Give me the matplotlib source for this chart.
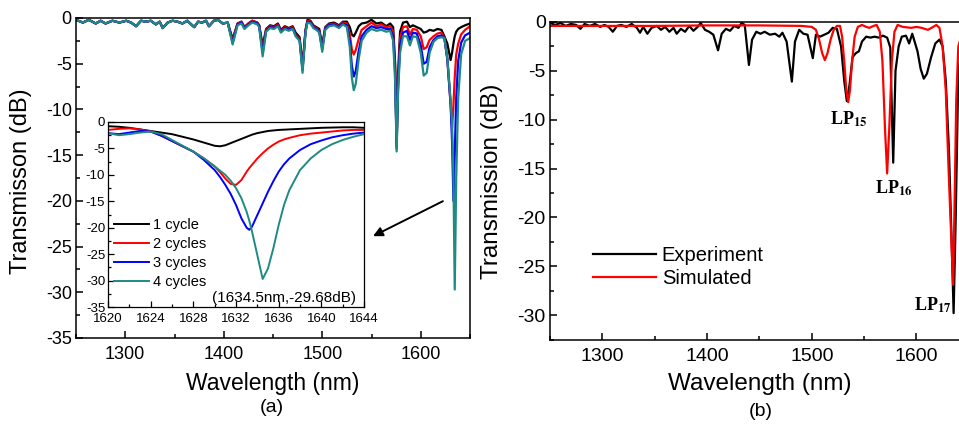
import numpy as np
import matplotlib

matplotlib.use("Agg")
import matplotlib.pyplot as plt
from matplotlib.ticker import MultipleLocator

plt.rcParams["font.family"] = ["Liberation Sans", "DejaVu Sans"]
plt.rcParams["mathtext.fontset"] = "stix"
plt.rcParams["axes.unicode_minus"] = False

# ---- panel (a): full spectra for 1-4 cycles ----
wl_a = [1250, 1257, 1263, 1270, 1275, 1280, 1287, 1294, 1301, 1306, 1311, 1316, 1321, 1326,
        1331, 1335, 1338, 1343, 1348, 1353, 1358, 1363, 1370, 1374, 1378, 1382, 1385, 1390,
        1394, 1399, 1404, 1409, 1414, 1418, 1421, 1425, 1429, 1434, 1436, 1439.5, 1443, 1447,
        1451, 1455, 1458, 1462, 1466, 1470, 1473, 1477, 1480, 1483, 1485, 1488, 1491, 1494,
        1497, 1500, 1503, 1507, 1512, 1517, 1521, 1525, 1528, 1530, 1532, 1534, 1537, 1540,
        1545, 1550, 1555, 1560, 1565, 1569, 1572, 1574, 1575.5, 1577, 1579, 1582, 1586, 1589,
        1592, 1596, 1600, 1603, 1606, 1609, 1613, 1617, 1621, 1624, 1627, 1630.3, 1631.8,
        1633.2, 1634.5, 1636, 1638, 1641, 1645, 1650]
base_a = [-0.2, -0.5, -0.2, -0.6, -0.3, -0.6, -0.3, -0.5, -0.3, -0.5, -0.9, -0.3, -0.4, -0.3,
          -0.7, -0.4, -1.1, -0.5, -0.3, -0.4, -0.6, -0.3, -1.0, -0.4, -0.5, -0.3, -0.9, -0.3,
          -0.2, -0.6, -0.5]
one_a = base_a + [-2.3, -0.6, -0.4, -1.0, -0.6, -0.3, -0.5, -0.8, -3.0, -1.2, -0.8,
                  -0.9, -0.6, -1.3, -0.9, -1.1, -0.9, -1.6, -2.1, -5.2, -1.3, -0.2, -0.3, -0.8, -1.0,
                  -1.2, -3.0, -1.0, -0.6, -0.5, -0.8, -0.4, -0.4, -1.0, -1.8, -2.0, -1.6, -0.9, -0.6,
                  -0.5, -0.2, -0.6, -0.5, -0.9, -0.6, -1.0, -5.0, -13.5, -6.0, -1.5, -0.5, -0.4, -1.0,
                  -0.8, -1.0, -1.2, -1.6, -1.5, -1.3, -1.4, -1.2, -1.3, -2.0, -2.8, -4.6, -3.8,
                  -2.8, -2.0, -1.5, -1.2, -1.0, -0.8, -0.6]
two_a = base_a + [-2.5, -0.6, -0.4, -1.0, -0.6, -0.3, -0.5, -0.8, -3.4, -1.3, -0.9,
                  -1.0, -0.7, -1.4, -1.0, -1.2, -1.0, -1.8, -2.3, -5.5, -1.4, -0.3, -0.4, -0.9, -1.1,
                  -1.4, -3.2, -1.1, -0.7, -0.6, -0.9, -0.5, -0.6, -1.8, -3.4, -4.0, -3.5, -2.3, -1.3,
                  -0.9, -0.5, -0.9, -0.7, -1.0, -0.9, -1.5, -5.5, -14.0, -7.0, -2.2, -1.0, -0.9, -1.8,
                  -1.2, -1.3, -2.0, -3.4, -3.2, -2.4, -2.0, -1.7, -1.6, -2.2, -4.5, -9.4, -12.0,
                  -9.5, -6.5, -4.0, -2.8, -1.8, -1.3, -0.9]
three_a = base_a + [-2.7, -0.7, -0.5, -1.1, -0.7, -0.4, -0.6, -0.9, -3.8, -1.4, -1.0,
                    -1.1, -0.8, -1.5, -1.1, -1.3, -1.1, -1.9, -2.4, -5.7, -1.5, -0.4, -0.5, -1.0, -1.2,
                    -1.5, -3.4, -1.2, -0.8, -0.7, -1.0, -0.6, -0.8, -2.5, -5.2, -6.4, -5.8, -3.6, -2.0,
                    -1.3, -0.9, -1.1, -1.0, -1.2, -1.2, -2.0, -6.0, -14.3, -7.5, -3.0, -1.6, -1.4, -2.4,
                    -1.6, -1.7, -3.0, -5.0, -4.8, -3.2, -2.4, -2.0, -1.9, -2.2, -4.5, -9.4, -13.5,
                    -20.0, -15.0, -8.8, -4.7, -2.7, -1.9, -1.6]
four_a = base_a + [-2.9, -0.8, -0.6, -1.2, -0.8, -0.5, -0.7, -1.0, -4.2, -1.5, -1.1,
                   -1.2, -0.9, -1.6, -1.2, -1.4, -1.2, -2.0, -2.5, -6.0, -1.6, -0.5, -0.6, -1.1, -1.3,
                   -1.6, -3.7, -1.3, -0.9, -0.8, -1.1, -0.7, -1.0, -3.2, -6.5, -7.9, -7.2, -4.5, -2.5,
                   -1.6, -1.2, -1.4, -1.3, -1.5, -1.4, -2.5, -7.0, -14.6, -8.0, -3.8, -2.0, -2.0, -3.0,
                   -2.0, -2.1, -3.8, -6.3, -6.0, -3.8, -2.6, -2.2, -2.1, -2.2, -4.4, -9.0, -11.5,
                   -17.5, -29.7, -17.6, -8.8, -4.0, -2.5, -2.2]

# ---- inset: zoom on the 1634 nm resonance ----
wl_in = [1620, 1621, 1622, 1623, 1624, 1625, 1626, 1627, 1628, 1629, 1630, 1630.5, 1631,
         1631.5, 1632, 1632.5, 1633, 1633.25, 1633.5, 1634, 1634.5, 1635, 1635.5, 1636, 1636.5,
         1637, 1638, 1639, 1640, 1641, 1642, 1643, 1644]
one_in = [-0.8, -0.9, -1.1, -1.4, -1.7, -2.0, -2.3, -2.8, -3.3, -3.9, -4.5, -4.6, -4.4, -4.0,
          -3.6, -3.2, -2.8, -2.6, -2.4, -2.1, -1.9, -1.7, -1.6, -1.5, -1.45, -1.4, -1.3, -1.2,
          -1.1, -1.05, -1.0, -1.0, -1.1]
two_in = [-1.5, -1.3, -1.2, -1.4, -1.8, -2.6, -3.6, -4.6, -5.6, -6.9, -8.4, -9.5, -10.7, -11.7,
          -11.9, -11.0, -9.4, -8.7, -8.1, -6.9, -5.9, -5.0, -4.3, -3.7, -3.3, -3.0, -2.5, -2.2,
          -2.0, -1.8, -1.6, -1.5, -1.5]
three_in = [-2.1, -2.3, -2.0, -1.7, -1.8, -2.6, -3.6, -4.6, -5.6, -7.2, -9.1, -10.4, -11.9,
            -13.6, -15.7, -18.2, -20.0, -20.4, -19.8, -17.6, -15.4, -13.2, -11.2, -9.4, -8.0,
            -6.9, -5.3, -4.2, -3.5, -2.9, -2.5, -2.2, -2.0]
four_in = [-2.1, -2.5, -2.3, -2.0, -1.8, -2.3, -3.4, -4.5, -5.6, -6.9, -8.4, -9.2, -10.0, -11.1,
           -12.5, -14.4, -17.0, -18.7, -20.7, -25.2, -29.7, -27.7, -23.9, -19.5, -15.7, -12.9,
           -9.1, -6.9, -5.3, -4.2, -3.4, -2.8, -2.3]

# ---- panel (b): experiment vs simulation ----
wl_exp = [1250, 1255, 1260, 1265, 1270, 1275, 1279, 1283, 1288, 1293, 1298, 1302, 1306, 1310,
          1314, 1318, 1323, 1328, 1333, 1336, 1339, 1343, 1347, 1352, 1356, 1360, 1364, 1368,
          1371, 1375, 1379, 1383, 1387, 1391, 1394, 1398, 1402, 1406, 1410.5, 1414, 1418, 1422,
          1426, 1430, 1433, 1436, 1440, 1443, 1447, 1451, 1455, 1460, 1465, 1469, 1472, 1476,
          1481, 1484, 1488, 1492, 1496, 1501, 1504, 1508, 1512, 1516, 1520, 1524, 1528, 1531,
          1533.5, 1536, 1539, 1542, 1545, 1548, 1552, 1556, 1560, 1564, 1568, 1572, 1575,
          1577.8, 1580, 1583, 1586, 1590, 1593, 1596, 1601, 1604, 1607, 1610, 1614, 1618, 1622,
          1625, 1628, 1631, 1633.5, 1635.5, 1637.5, 1640, 1645]
exp_b = [-0.1, -0.3, -0.1, -0.4, -0.2, -0.3, -0.7, -0.2, -0.4, -0.2, -0.5, -0.3, -0.5, -1.0,
         -0.4, -0.3, -0.5, -0.2, -0.6, -1.1, -0.5, -1.2, -0.6, -0.4, -0.8, -0.5, -1.0, -0.6,
         -1.2, -0.7, -1.0, -0.4, -0.9, -0.5, -0.1, -0.8, -1.0, -1.3, -2.9, -1.2, -0.7, -0.9,
         -0.4, -0.6, -0.1, -0.3, -4.4, -1.8, -1.0, -1.2, -1.0, -1.3, -1.2, -1.5, -1.1, -2.0,
         -6.1, -2.0, -0.8, -1.2, -1.3, -3.7, -1.3, -1.5, -1.3, -1.1, -0.6, -0.7, -2.5, -6.0,
         -8.1, -6.5, -3.6, -3.2, -3.0, -2.0, -1.5, -1.6, -1.5, -1.6, -1.4, -1.6, -2.6,
         -14.4, -5.0, -2.5, -1.5, -1.4, -2.2, -1.2, -3.0, -4.8, -5.8, -5.3, -3.6, -2.2, -1.8,
         -2.5, -6.0, -13.0, -22.0, -29.8, -20.0, -5.0, -1.0]
wl_sim = [1250, 1300, 1350, 1400, 1450, 1490, 1500, 1504, 1507, 1510, 1512.5, 1515, 1518, 1521,
          1524, 1527, 1529, 1531, 1533, 1534.8, 1536.5, 1538.5, 1541, 1544, 1548, 1552, 1555,
          1559, 1562, 1565, 1567.5, 1570, 1572, 1574, 1576.5, 1579, 1582, 1587, 1595, 1600,
          1605, 1611, 1616, 1619, 1622, 1625, 1628, 1631, 1635, 1636.5, 1638, 1640, 1645, 1650]
sim_b = [-0.4, -0.4, -0.4, -0.35, -0.35, -0.4, -0.5, -0.8, -1.8, -3.2, -3.9, -3.2, -1.8, -0.8,
         -0.4, -0.4, -1.5, -4.0, -7.0, -8.2, -7.0, -4.0, -1.5, -0.5, -0.3, -0.5, -0.6,
         -0.4, -0.3, -1.0, -4.0, -11.0, -15.5, -11.0, -4.0, -1.0, -0.3, -0.5, -0.6, -0.5,
         -0.6, -0.8, -0.5, -0.3, -0.6, -2.5, -7.0, -16.0, -26.9, -18.0, -8.0, -2.5, -0.6, -0.4]

teal = "#1e8a84"
colors = ["black", "#ff0000", "#0000ff", teal]
labels = ["1 cycle", "2 cycles", "3 cycles", "4 cycles"]


def style_axes(ax, size, lw=1.1):
    ax.tick_params(which="both", direction="in", top=False, right=False, width=lw,
                   labelsize=size)
    ax.tick_params(which="major", length=5)
    ax.tick_params(which="minor", length=3)
    for sp in ax.spines.values():
        sp.set_linewidth(lw)


fig = plt.figure(figsize=(9.59, 4.26), dpi=100)

# panel (a)
ax_a = fig.add_axes([76 / 959, 88 / 426, 394 / 959, 320 / 426])
for ys, c in zip([one_a, two_a, three_a, four_a], colors):
    ax_a.plot(wl_a, ys, color=c, lw=1.6)
ax_a.set_xlim(1250, 1650)
ax_a.set_ylim(-35, 0)
ax_a.xaxis.set_major_locator(MultipleLocator(100))
ax_a.xaxis.set_minor_locator(MultipleLocator(50))
ax_a.yaxis.set_major_locator(MultipleLocator(5))
ax_a.yaxis.set_minor_locator(MultipleLocator(2.5))
style_axes(ax_a, 13)
ax_a.tick_params(axis="x", pad=6)
ax_a.tick_params(axis="y", pad=3)
ax_a.set_xlabel("Wavelength (nm)", fontsize=16.5)
ax_a.set_ylabel("Transmisson (dB)", fontsize=17)
ax_a.xaxis.set_label_coords(0.5, -0.105)
ax_a.yaxis.set_label_coords(-0.112, 0.49)
ax_a.annotate("", xy=(1549, -24.0), xytext=(1625, -19.9),
              arrowprops=dict(arrowstyle="-|>", color="black", lw=1.4,
                              mutation_scale=14))

# inset
ax_in = fig.add_axes([108 / 959, 119 / 426, 256 / 959, 185 / 426])
for ys, c, lab in zip([one_in, two_in, three_in, four_in], colors, labels):
    ax_in.plot(wl_in, ys, color=c, lw=1.4, label=lab)
ax_in.set_xlim(1620, 1644)
ax_in.set_ylim(-35, 0)
ax_in.xaxis.set_major_locator(MultipleLocator(4))
ax_in.xaxis.set_minor_locator(MultipleLocator(2))
ax_in.yaxis.set_major_locator(MultipleLocator(5))
ax_in.yaxis.set_minor_locator(MultipleLocator(2.5))
style_axes(ax_in, 9.5, lw=0.9)
ax_in.tick_params(which="major", length=4)
ax_in.tick_params(which="minor", length=2)
ax_in.tick_params(axis="x", pad=4)
ax_in.tick_params(axis="y", pad=2)
ax_in.legend(loc="lower left", bbox_to_anchor=(-0.01, 0.05), frameon=False, fontsize=10.5,
             handlelength=2.4, handletextpad=0.25, labelspacing=0.35, borderaxespad=0.2)
ax_in.text(0.97, 0.05, "(1634.5nm,-29.68dB)", transform=ax_in.transAxes, ha="right",
           va="center", fontsize=11)

# panel (b)
ax_b = fig.add_axes([550 / 959, 86 / 426, 418.8 / 959, 318 / 426])
ax_b.plot(wl_exp, exp_b, color="black", lw=1.6, label="Experiment")
ax_b.plot(wl_sim, sim_b, color="#ff0000", lw=1.6, label="Simulated")
ax_b.set_xlim(1250, 1650)
ax_b.set_ylim(-32.55, 0)
ax_b.xaxis.set_major_locator(MultipleLocator(100))
ax_b.xaxis.set_minor_locator(MultipleLocator(50))
ax_b.yaxis.set_major_locator(MultipleLocator(5))
ax_b.yaxis.set_minor_locator(MultipleLocator(2.5))
style_axes(ax_b, 14)
ax_b.tick_params(axis="x", pad=6)
ax_b.tick_params(axis="y", pad=3)
ax_b.set_xlabel("Wavelength (nm)", fontsize=17.5)
ax_b.set_ylabel("Transmission (dB)", fontsize=17.5)
ax_b.xaxis.set_label_coords(0.5, -0.104)
ax_b.yaxis.set_label_coords(-0.112, 0.5)
ax_b.legend(loc="lower left", bbox_to_anchor=(0.06, 0.105), frameon=False, fontsize=14.5,
            handlelength=3.1, handletextpad=0.3, labelspacing=0.2)
for txt, x, y in [("15", 1535.6, -10.0), ("16", 1578.6, -17.0), ("17", 1615.8, -29.0)]:
    ax_b.text(x, y, "LP$_{\\mathbf{" + txt + "}}$", ha="center", va="center",
              fontsize=13, fontweight="bold", family="Liberation Serif")

fig.text(272 / 959, 1 - 408 / 426, "(a)", ha="center", va="center", fontsize=14)
fig.text(761 / 959, 1 - 412 / 426, "(b)", ha="center", va="center", fontsize=14)

fig.savefig("out.png", dpi=100)
